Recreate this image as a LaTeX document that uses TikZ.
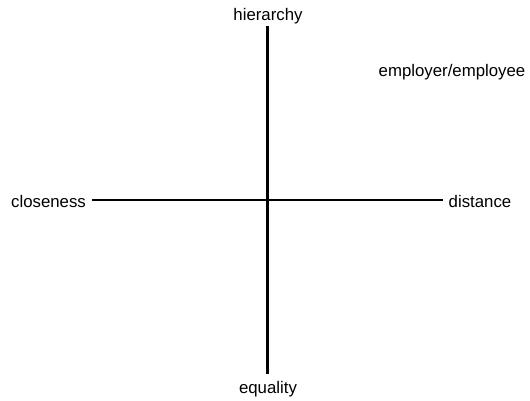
\documentclass[tikz,border=0pt]{standalone}
\usepackage{fontspec}
\setmainfont{Liberation Sans}
\begin{document}
\begin{tikzpicture}[x=1pt,y=-1pt,
  axis/.style={line width=2.2pt},
  lbl/.style={font=\fontsize{16.8}{20}\selectfont, inner sep=0pt, anchor=base}]
\useasboundingbox (0,0) rectangle (530,400);
% axis end points
\coordinate (top) at (267.5,26);
\coordinate (bottom) at (267.5,374);
\coordinate (left) at (92,200);
\coordinate (right) at (443,200);
% axes
\draw[axis] (top) -- (bottom);
\draw[axis] (left) -- (right);
% labels
\node[lbl] (hier) at (268,20) {hierarchy};
\node[lbl] (equal) at (268,393) {equality};
\node[lbl] (close) at (48.5,207) {closeness};
\node[lbl] (dist) at (480,207) {distance};
\node[lbl] (emp) at (452,76) {employer/employee};
\end{tikzpicture}
\end{document}
